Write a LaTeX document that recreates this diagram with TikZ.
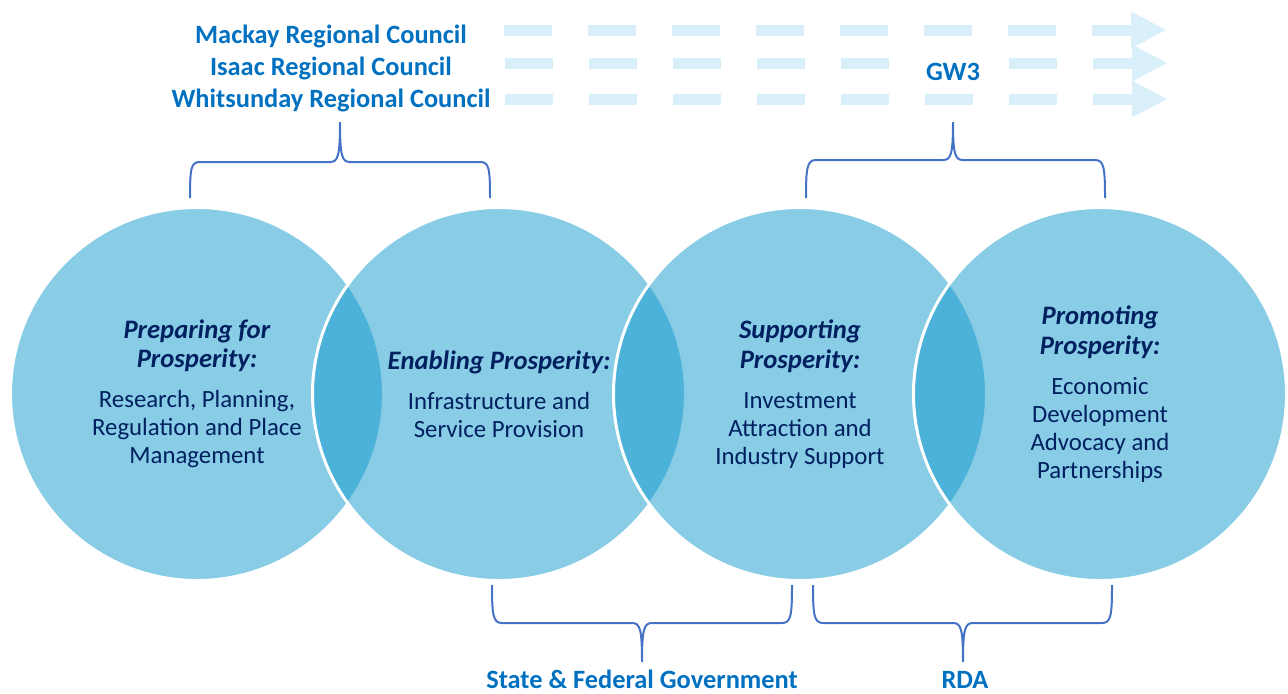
\documentclass[tikz,border=0pt]{standalone}
\usepackage{fontspec}
\setmainfont{Carlito}
\usetikzlibrary{arrows.meta}

\definecolor{councilblue}{RGB}{0,112,192}
\definecolor{bracketblue}{RGB}{68,114,196}
\definecolor{vennblue}{RGB}{17,153,205}
\definecolor{textnavy}{RGB}{0,32,96}
\definecolor{flowblue}{RGB}{217,240,250}

\newcommand{\pillar}[1]{{\fontsize{20}{21}\selectfont\textbf{\textit{#1}}}}

\begin{document}
\begin{tikzpicture}[x=0.75pt,y=-0.75pt,
  venn/.style={circle,minimum size=279.75pt,inner sep=0pt,fill=vennblue,fill opacity=0.5,
    text opacity=1,draw=white,line width=2.25pt,text=textnavy,align=center,
    font=\fontsize{18.6}{21}\selectfont},
  org/.style={anchor=base,text=councilblue,font=\bfseries\fontsize{19.8}{24}\selectfont},
  bracket/.style={draw=bracketblue,line width=1.5pt},
  flow/.style={draw=flowblue,line width=8.25pt,dash pattern=on 36pt off 27pt,
    -{Triangle[width=25.5pt,length=27pt]}}]

\useasboundingbox (0,0) rectangle (1288,693);

% dashed arrows
\coordinate (A0) at (504,30);
\coordinate (A1) at (1167,30);
\coordinate (B0) at (505,63);
\coordinate (B1) at (1168,63);
\coordinate (C0) at (505,99);
\coordinate (C1) at (1168,99);

\draw[flow] (A0) -- (A1);
\draw[flow] (B0) -- (B1);
\draw[flow] (C0) -- (C1);

\node[org] (mackay) at (331,43) {Mackay Regional Council};
\node[org] (isaac) at (331,75) {Isaac Regional Council};
\node[org] (whitsunday) at (331,107) {Whitsunday Regional Council};
\node[org,fill=white,inner sep=5pt] (gw) at (953,80) {GW3};

% circles
\node[venn] (prepare) at (197,394) {\pillar{Preparing for}\\[1pt]\pillar{Prosperity:}\\[9pt]Research, Planning,\\Regulation and Place\\Management};
\node[venn] (enable) at (499,394) {\pillar{Enabling Prosperity:}\\[9pt]Infrastructure and\\Service Provision};
\node[venn] (support) at (800,394) {\pillar{Supporting}\\[1pt]\pillar{Prosperity:}\\[9pt]Investment\\Attraction and\\Industry Support};
\node[venn] (promote) at (1100,394) {\pillar{Promoting}\\[1pt]\pillar{Prosperity:}\\[9pt]Economic\\Development\\Advocacy and\\Partnerships};

% brackets
\draw[bracket] (190,198) .. controls (190,168) and (191,162) .. (200,162) -- (330,162)
  .. controls (338,162) and (340,156) .. (340,122) .. controls (340,156) and (342,162) .. (350,162)
  -- (480,162) .. controls (489,162) and (490,168) .. (490,198);
\draw[bracket] (806,198) .. controls (806,168) and (807,160) .. (816,160) -- (943,160)
  .. controls (951,160) and (953,154) .. (953,122) .. controls (953,154) and (955,160) .. (963,160)
  -- (1095,160) .. controls (1104,160) and (1105,168) .. (1105,198);
\draw[bracket] (492,585) .. controls (492,615) and (493,623) .. (502,623) -- (632,623)
  .. controls (640,623) and (642,629) .. (642,662) .. controls (642,629) and (644,623) .. (652,623)
  -- (782,623) .. controls (791,623) and (792,615) .. (792,585);
\draw[bracket] (813,585) .. controls (813,615) and (814,623) .. (823,623) -- (953,623)
  .. controls (961,623) and (963,629) .. (963,662) .. controls (963,629) and (965,623) .. (973,623)
  -- (1102,623) .. controls (1111,623) and (1112,615) .. (1112,585);

\node[org] (gov) at (642,688) {State \& Federal Government};
\node[org] (rda) at (965,688) {RDA};

\end{tikzpicture}
\end{document}
